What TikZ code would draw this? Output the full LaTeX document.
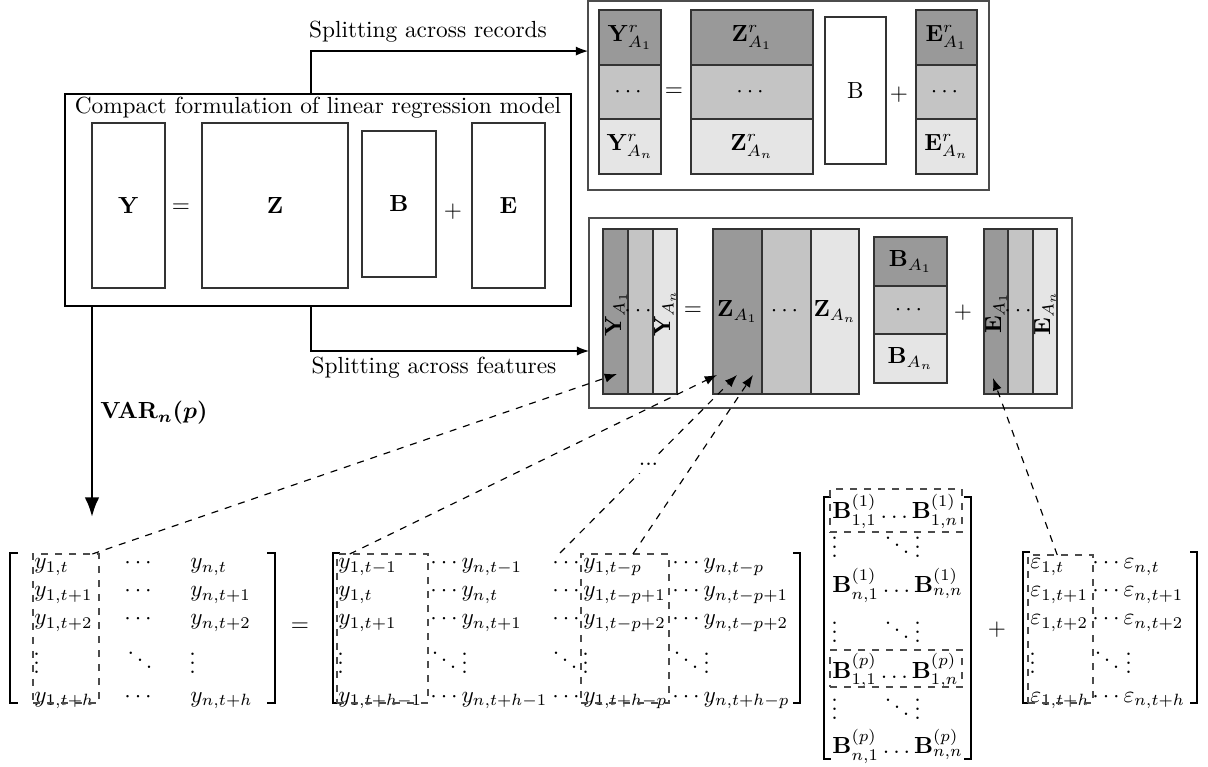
\documentclass[tikz,border=0pt]{standalone}
\usepackage{amsmath}
\usetikzlibrary{arrows.meta,calc}
\definecolor{cdark}{gray}{0.6}
\definecolor{cmid}{gray}{0.77}
\definecolor{clight}{gray}{0.9}
\newcommand{\mycell}[7]{\node[cellst, fill=#6, minimum width={(#4-#2)*0.4288pt}, minimum height={(#5-#3)*0.4288pt}] (#1) at ({(#2+#4)/2},{(#3+#5)/2}) {#7};}
\newcommand{\mybox}[6]{\node[#6, minimum width={(#4-#2)*0.4288pt}, minimum height={(#5-#3)*0.4288pt}] (#1) at ({(#2+#4)/2},{(#3+#5)/2}) {};}
\begin{document}
\begin{tikzpicture}[x=0.4288pt, y=-0.4288pt,
  cellst/.style={draw=black!80, line width=0.5pt, inner sep=0pt, outer sep=0pt},
  outerbox/.style={draw=black!70, line width=0.7pt, inner sep=0pt, outer sep=0pt},
  mainbox/.style={draw=black, line width=1.2pt, inner sep=0pt, outer sep=0pt},
  colbox/.style={draw=black!70, dashed, line width=0.5pt, inner sep=0pt, outer sep=0pt},
  ent/.style={anchor=base west, inner sep=0pt},
  entc/.style={anchor=base, inner sep=0pt},
  brk/.style={line width=0.9pt},
  flow/.style={line width=0.5pt, -{Latex}},
  varflow/.style={line width=1.2pt, -{Latex}},
  dflow/.style={line width=0.5pt, dashed, -{Latex}}]
\useasboundingbox (0,0) rectangle (1208,767);

% ---------- left box ----------
\mybox{cbox}{65}{94}{571}{306}{mainbox}
\node (ctitle) at (318,108) {Compact formulation of linear regression model};
\mycell{cY}{92}{123}{165}{288}{white}{$\mathbf{Y}$}
\node (ceq) at (181,208) {$=$};
\mycell{cZ}{202}{123}{348}{288}{white}{$\mathbf{Z}$}
\mycell{cB}{362}{131}{436}{277}{white}{$\mathbf{B}$}
\node (cplus) at (453,212) {$+$};
\mycell{cE}{472}{123}{545}{288}{white}{$\mathbf{E}$}

% ---------- top right box ----------
\mybox{recbox}{588}{1}{989}{190}{outerbox}
\mycell{rY1}{599}{10}{661}{65}{cdark}{$\mathbf{Y}^r_{A_1}$}
\mycell{rY2}{599}{65}{661}{119}{cmid}{$\cdots$}
\mycell{rY3}{599}{119}{661}{174}{clight}{$\mathbf{Y}^r_{A_n}$}
\node (req) at (674,92) {$=$};
\mycell{rZ1}{691}{10}{813}{65}{cdark}{$\mathbf{Z}^r_{A_1}$}
\mycell{rZ2}{691}{65}{813}{119}{cmid}{$\cdots$}
\mycell{rZ3}{691}{119}{813}{174}{clight}{$\mathbf{Z}^r_{A_n}$}
\mycell{rB}{825}{17}{886}{164}{white}{$\mathrm{B}$}
\node (rplus) at (899,95) {$+$};
\mycell{rE1}{916}{10}{977}{65}{cdark}{$\mathbf{E}^r_{A_1}$}
\mycell{rE2}{916}{65}{977}{119}{cmid}{$\cdots$}
\mycell{rE3}{916}{119}{977}{174}{clight}{$\mathbf{E}^r_{A_n}$}

% ---------- middle right box ----------
\mybox{featbox}{589}{218}{1072}{408}{outerbox}
\mycell{fY1}{603}{229}{628}{394}{cdark}{}
\mycell{fY2}{628}{229}{653}{394}{cmid}{}
\mycell{fY3}{653}{229}{677}{394}{clight}{}
\node[rotate=90] (fYl1) at (616,314) {$\mathbf{Y}_{A_1}$};
\node (fYd) at (640,311) {$\cdots$};
\node[rotate=90] (fYl3) at (665,313) {$\mathbf{Y}_{A_n}$};
\node (feq) at (693,311) {$=$};
\mycell{fZ1}{713}{229}{762}{394}{cdark}{$\mathbf{Z}_{A_1}$}
\mycell{fZ2}{762}{229}{811}{394}{cmid}{$\cdots$}
\mycell{fZ3}{811}{229}{859}{394}{clight}{$\mathbf{Z}_{A_n}$}
\mycell{fB1}{874}{237}{947}{286}{cdark}{$\mathbf{B}_{A_1}$}
\mycell{fB2}{874}{286}{947}{334}{cmid}{$\cdots$}
\mycell{fB3}{874}{334}{947}{383}{clight}{$\mathbf{B}_{A_n}$}
\node (fplus) at (963,313) {$+$};
\mycell{fE1}{984}{229}{1008}{394}{cdark}{}
\mycell{fE2}{1008}{229}{1033}{394}{cmid}{}
\mycell{fE3}{1033}{229}{1057}{394}{clight}{}
\node[rotate=90] (fEl1) at (996,313) {$\mathbf{E}_{A_1}$};
\node (fEd) at (1020,311) {$\cdots$};
\node[rotate=90] (fEl3) at (1045,313) {$\mathbf{E}_{A_n}$};

% ---------- solid connectors ----------
\draw[flow] (cbox.north -| 311,0) |- ($(recbox.north west)!0.265!(recbox.south west)$);
\node (lrec) at (428,32) {Splitting across records};
\draw[flow] (cbox.south -| 311,0) |- ($(featbox.north west)!0.7!(featbox.south west)$);
\node (lfeat) at (434,368) {Splitting across features};
\coordinate (ymtop) at (92,517);
\draw[varflow] (cbox.south -| 92,0) -- (ymtop);
\node (varlbl) at (154,413) {{\boldmath$\mathrm{VAR}_{n}(p)$}};

% ---------- Y matrix ----------
\draw[brk] (18,553) -- (10,553) -- (10,703) -- (18,703);
\draw[brk] (267,553) -- (275,553) -- (275,703) -- (267,703);
\node[ent] (y11) at (34,569) {$y_{1,t}$};
\node[entc] (y12) at (140,569) {$\cdots$};
\node[ent] (y13) at (190,569) {$y_{n,t}$};
\node[ent] (y21) at (34,597) {$y_{1,t+1}$};
\node[entc] (y22) at (140,597) {$\cdots$};
\node[ent] (y23) at (190,597) {$y_{n,t+1}$};
\node[ent] (y31) at (34,625) {$y_{1,t+2}$};
\node[entc] (y32) at (140,625) {$\cdots$};
\node[ent] (y33) at (190,625) {$y_{n,t+2}$};
\node[ent] (y41) at (33,674) {$\vdots$};
\node[entc] (y42) at (140,671) {$\ddots$};
\node[ent] (y43) at (189,674) {$\vdots$};
\node[ent] (y51) at (34,702) {$y_{1,t+h}$};
\node[entc] (y52) at (140,702) {$\cdots$};
\node[ent] (y53) at (190,702) {$y_{n,t+h}$};
\mybox{ycol}{33}{554}{99}{703}{colbox}
\node (meq) at (300,627) {$=$};

% ---------- Z matrix ----------
\draw[brk] (340,553) -- (333,553) -- (333,703) -- (340,703);
\draw[brk] (793,553) -- (800,553) -- (800,703) -- (793,703);
\node[ent] (z11) at (338,569) {$y_{1,t-1}$};
\node[ent] (z12) at (430,569) {$\cdots y_{n,t-1}$};
\node[ent] (z13) at (552,569) {$\cdots$};
\node[ent] (z14) at (583,569) {$y_{1,t-p}$};
\node[ent] (z15) at (672,569) {$\cdots y_{n,t-p}$};
\node[ent] (z21) at (338,597) {$y_{1,t}$};
\node[ent] (z22) at (430,597) {$\cdots y_{n,t}$};
\node[ent] (z23) at (552,597) {$\cdots$};
\node[ent] (z24) at (583,597) {$y_{1,t-p+1}$};
\node[ent] (z25) at (672,597) {$\cdots y_{n,t-p+1}$};
\node[ent] (z31) at (338,625) {$y_{1,t+1}$};
\node[ent] (z32) at (430,625) {$\cdots y_{n,t+1}$};
\node[ent] (z33) at (552,625) {$\cdots$};
\node[ent] (z34) at (583,625) {$y_{1,t-p+2}$};
\node[ent] (z35) at (672,625) {$\cdots y_{n,t-p+2}$};
\node[ent] (z41) at (337,674) {$\vdots$};
\node[ent] (z42a) at (430,671) {$\ddots$};
\node[ent] (z42b) at (461,674) {$\vdots$};
\node[ent] (z43) at (551,671) {$\ddots$};
\node[ent] (z44) at (582,674) {$\vdots$};
\node[ent] (z45a) at (672,671) {$\ddots$};
\node[ent] (z45b) at (703,674) {$\vdots$};
\node[ent] (z51) at (338,702) {$y_{1,t+h-1}$};
\node[ent] (z52) at (430,702) {$\cdots y_{n,t+h-1}$};
\node[ent] (z53) at (552,702) {$\cdots$};
\node[ent] (z54) at (583,702) {$y_{1,t+h-p}$};
\node[ent] (z55) at (672,702) {$\cdots y_{n,t+h-p}$};
\mybox{zcol1}{337}{554}{428}{703}{colbox}
\mybox{zcol2}{581}{554}{669}{703}{colbox}

% ---------- B matrix ----------
\draw[brk] (831,497) -- (824,497) -- (824,759) -- (831,759);
\draw[brk] (964,497) -- (971,497) -- (971,759) -- (964,759);
\node[ent] (b1) at (832,519) {$\mathbf{B}^{(1)}_{1,1}\ldots\mathbf{B}^{(1)}_{1,n}$};
\node[ent] (b2a) at (831,558) {$\vdots$};
\node[ent] (b2b) at (883,556) {$\ddots$};
\node[ent] (b2c) at (914,558) {$\vdots$};
\node[ent] (b3) at (832,593) {$\mathbf{B}^{(1)}_{n,1}\ldots\mathbf{B}^{(1)}_{n,n}$};
\node[ent] (b4a) at (831,643) {$\vdots$};
\node[ent] (b4b) at (883,641) {$\ddots$};
\node[ent] (b4c) at (914,643) {$\vdots$};
\node[ent] (b5) at (832,678) {$\mathbf{B}^{(p)}_{1,1}\ldots\mathbf{B}^{(p)}_{1,n}$};
\node[ent] (b6a) at (831,720) {$\vdots$};
\node[ent] (b6b) at (883,718) {$\ddots$};
\node[ent] (b6c) at (914,720) {$\vdots$};
\node[ent] (b7) at (832,754) {$\mathbf{B}^{(p)}_{n,1}\ldots\mathbf{B}^{(p)}_{n,n}$};
\mybox{brow1}{830}{489}{962}{532}{colbox}
\mybox{brow5}{830}{650}{962}{687}{colbox}
\node (mplus) at (997,630) {$+$};

% ---------- E matrix ----------
\draw[brk] (1030,552) -- (1023,552) -- (1023,703) -- (1030,703);
\draw[brk] (1190,552) -- (1197,552) -- (1197,703) -- (1190,703);
\node[ent] (e11) at (1030,569) {$\varepsilon_{1,t}$};
\node[ent] (e12) at (1092,569) {$\cdots\varepsilon_{n,t}$};
\node[ent] (e21) at (1030,597) {$\varepsilon_{1,t+1}$};
\node[ent] (e22) at (1092,597) {$\cdots\varepsilon_{n,t+1}$};
\node[ent] (e31) at (1030,625) {$\varepsilon_{1,t+2}$};
\node[ent] (e32) at (1092,625) {$\cdots\varepsilon_{n,t+2}$};
\node[ent] (e41) at (1029,674) {$\vdots$};
\node[ent] (e42a) at (1093,671) {$\ddots$};
\node[ent] (e42b) at (1125,674) {$\vdots$};
\node[ent] (e51) at (1030,702) {$\varepsilon_{1,t+h}$};
\node[ent] (e52) at (1092,702) {$\cdots\varepsilon_{n,t+h}$};
\mybox{ecol}{1028}{555}{1093}{703}{colbox}

% ---------- dashed connectors ----------
\coordinate (t1) at (617,374);
\coordinate (t2) at (717,375);
\coordinate (t3) at (737,375);
\coordinate (t4) at (753,375);
\coordinate (t5) at (993,378);
\coordinate (zmid) at (560,553);
\draw[dflow] ($(ycol.north west)!0.9!(ycol.north east)$) -- (t1);
\draw[dflow] ($(zcol1.north west)!0.14!(zcol1.north east)$) -- (t2);
\draw[dflow] (zmid) -- node[fill=white] (ldots) {...} (t3);
\draw[dflow] ($(zcol2.north west)!0.59!(zcol2.north east)$) -- (t4);
\draw[dflow] ($(ecol.north west)!0.45!(ecol.north east)$) -- (t5);
\end{tikzpicture}
\end{document}
